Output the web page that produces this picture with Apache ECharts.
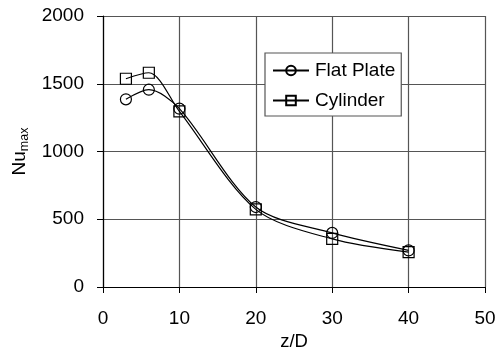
<!DOCTYPE html>
<html>
<head>
<meta charset="utf-8">
<script src="https://cdn.jsdelivr.net/npm/echarts@6/dist/echarts.min.js"></script>
<style>html,body{margin:0;padding:0;background:#fff}#c{width:497px;height:350px}</style>
</head>
<body>
<div id="c"></div>
<script>
const zD = [3, 6, 10, 20, 30, 40];
const flatPlate = [1385, 1456, 1316, 590, 399, 270];
const cylinder = [1537, 1581, 1296, 573, 355, 258];
const xTicks = [0, 10, 20, 30, 40, 50];
const yTicks = [0, 500, 1000, 1500, 2000];

const font = 'Liberation Sans, Arial, sans-serif';
const chart = echarts.init(document.getElementById('c'), null, {renderer: 'canvas'});
const mk = (name, vals, symbol) => ({
  name, type: 'line', data: zD.map((x, i) => [x, vals[i]]),
  smooth: 0.3, symbol, symbolSize: 11, showSymbol: true,
  lineStyle: {color: '#000', width: 1.2},
  itemStyle: {color: 'rgba(0,0,0,0)', borderColor: '#000', borderWidth: 1.2},
  emphasis: {disabled: true}, animation: false
});
chart.setOption({
  animation: false,
  grid: {left: 103, right: 12, top: 16, bottom: 63, containLabel: false, outerBoundsMode: 'none'},
  xAxis: {
    type: 'value', min: xTicks[0], max: xTicks[xTicks.length - 1], interval: 10,
    name: 'z/D', nameLocation: 'middle', nameGap: 37,
    nameTextStyle: {fontFamily: font, fontSize: 18.5, color: '#000'},
    axisLine: {show: true, lineStyle: {color: '#000', width: 1.2}},
    axisTick: {show: true, inside: false, length: 6, lineStyle: {color: '#000'}},
    axisLabel: {fontFamily: font, fontSize: 19, color: '#000', margin: 22, formatter: v => String(v)},
    splitLine: {show: true, lineStyle: {color: '#555', width: 1.2}}
  },
  yAxis: {
    type: 'value', min: yTicks[0], max: yTicks[yTicks.length - 1], interval: 500,
    name: '{n|Nu}{s|max}', nameLocation: 'middle', nameGap: 72, nameRotate: 90,
    nameTextStyle: {fontFamily: font, color: '#000',
      rich: {n: {fontFamily: font, fontSize: 19, lineHeight: 22, color: '#000'},
             s: {fontFamily: font, fontSize: 12.5, lineHeight: 8, verticalAlign: 'bottom', color: '#000'}}},
    axisLine: {show: true, lineStyle: {color: '#000', width: 1.2}},
    axisTick: {show: true, inside: false, length: 6, lineStyle: {color: '#000'}},
    axisLabel: {fontFamily: font, fontSize: 19, color: '#000', margin: 19, formatter: v => String(v)},
    splitLine: {show: true, lineStyle: {color: '#555', width: 1.2}}
  },
  legend: {
    orient: 'vertical', left: 265, top: 53,
    backgroundColor: '#fff', borderColor: '#555', borderWidth: 1.2,
    padding: [8, 6, 6, 7], itemGap: 11, itemWidth: 36, itemHeight: 12,
    textStyle: {fontFamily: font, fontSize: 19, color: '#000', padding: [0, 0, 0, 1]},
    data: ['Flat Plate', 'Cylinder']
  },
  series: [mk('Flat Plate', flatPlate, 'circle'), mk('Cylinder', cylinder, 'rect')]
});
</script>
</body>
</html>
